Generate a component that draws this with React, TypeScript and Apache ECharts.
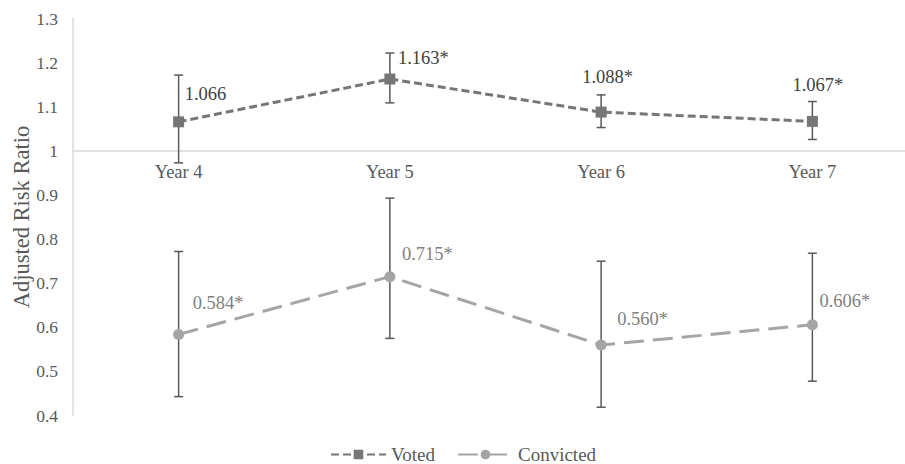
import React, { useEffect, useRef } from "react";
import * as echarts from "echarts";

const categories = ["Year 4", "Year 5", "Year 6", "Year 7"];
const votedValues = [1.066, 1.163, 1.088, 1.067];
const votedLabels = ["1.066", "1.163*", "1.088*", "1.067*"];
const votedLow = [0.973, 1.109, 1.053, 1.026];
const votedHigh = [1.172, 1.222, 1.127, 1.112];
const convictedValues = [0.584, 0.715, 0.56, 0.606];
const convictedLabels = ["0.584*", "0.715*", "0.560*", "0.606*"];
const convictedLow = [0.443, 0.575, 0.419, 0.478];
const convictedHigh = [0.772, 0.893, 0.75, 0.768];
const yMin = 0.4;
const yMax = 1.3;
const yInterval = 0.1;
const crossValue = 1;

// label offsets (layout only): [dx from point to text left edge, dy from point to text middle]
const votedLabelOffsets = [[6, -28], [8, -21], [-19, -35], [-20, -36]];
const convictedLabelOffsets = [[14, -31], [12, -23], [16, -26], [7, -24]];

const FONT = "Liberation Serif";
const GRID_TOP = 18.6;
const GRID_BOTTOM = 48.4;
const CHART_H = 464;

export default function App() {
  const ref = useRef<HTMLDivElement>(null);
  useEffect(() => {
    if (!ref.current) return;
    const chart = echarts.init(ref.current, null, { renderer: "svg" });
    const gridH = CHART_H - GRID_TOP - GRID_BOTTOM;
    const axisOffset = -((crossValue - yMin) / (yMax - yMin)) * gridH;
    const SYM = 11;

    const mkData = (vals: number[], labels: string[], offs: number[][], color: string) =>
      vals.map((v, i) => ({
        value: v,
        label: {
          show: true,
          formatter: labels[i],
          position: [SYM / 2 + offs[i][0], SYM / 2 + offs[i][1]],
          align: "left",
          verticalAlign: "middle",
          color,
          fontFamily: FONT,
          fontSize: 18.5,
        },
      }));

    const errRender = (color: string) => (params: any, api: any) => {
      const x = api.value(0);
      const pLo = api.coord([x, api.value(1)]);
      const pHi = api.coord([x, api.value(2)]);
      const cap = 4.5;
      const style = { stroke: color, lineWidth: 1.5 };
      return {
        type: "group",
        children: [
          { type: "line", shape: { x1: pHi[0], y1: pHi[1], x2: pLo[0], y2: pLo[1] }, style },
          { type: "line", shape: { x1: pHi[0] - cap, y1: pHi[1], x2: pHi[0] + cap, y2: pHi[1] }, style },
          { type: "line", shape: { x1: pLo[0] - cap, y1: pLo[1], x2: pLo[0] + cap, y2: pLo[1] }, style },
        ],
      };
    };

    chart.setOption({
      animation: false,
      backgroundColor: "#ffffff",
      textStyle: { fontFamily: FONT },
      grid: {
        left: 73,
        width: 845,
        top: GRID_TOP,
        height: gridH,
        containLabel: false,
        outerBoundsMode: "none",
      },
      legend: {
        data: ["Voted", "Convicted"],
        top: 440,
        left: 325,
        itemWidth: 55,
        itemHeight: 12,
        itemGap: 22,
        textStyle: { fontFamily: FONT, fontSize: 19, color: "#595959" },
      },
      xAxis: {
        type: "category",
        data: categories,
        boundaryGap: true,
        position: "bottom",
        offset: axisOffset,
        axisLine: { show: true, lineStyle: { color: "#d9d9d9", width: 1.5 } },
        axisTick: { show: false },
        axisLabel: { color: "#595959", fontFamily: FONT, fontSize: 18.5, margin: 12 },
        splitLine: { show: false },
      },
      yAxis: {
        type: "value",
        min: yMin,
        max: yMax,
        interval: yInterval,
        name: "Adjusted Risk Ratio",
        nameLocation: "middle",
        nameGap: 40,
        nameMoveOverlap: false,
        nameTextStyle: { color: "#595959", fontFamily: FONT, fontSize: 22.5 },
        axisLine: { show: true, lineStyle: { color: "#d9d9d9", width: 1.5 } },
        axisTick: { show: false },
        splitLine: { show: false },
        axisLabel: {
          color: "#595959",
          fontFamily: FONT,
          fontSize: 17.5,
          margin: 15,
          formatter: (v: number) => String(Math.round(v * 10) / 10),
        },
      },
      series: [
        {
          name: "VotedErr",
          type: "custom",
          renderItem: errRender("#595959"),
          encode: { x: 0, y: [1, 2] },
          data: categories.map((_, i) => [i, votedLow[i], votedHigh[i]]),
          z: 1,
          silent: true,
        },
        {
          name: "ConvictedErr",
          type: "custom",
          renderItem: errRender("#595959"),
          encode: { x: 0, y: [1, 2] },
          data: categories.map((_, i) => [i, convictedLow[i], convictedHigh[i]]),
          z: 1,
          silent: true,
        },
        {
          name: "Voted",
          type: "line",
          data: mkData(votedValues, votedLabels, votedLabelOffsets, "#404040"),
          symbol: "rect",
          symbolSize: SYM,
          itemStyle: { color: "#767676" },
          lineStyle: { color: "#767676", width: 3, type: [8, 4] },
          z: 3,
        },
        {
          name: "Convicted",
          type: "line",
          data: mkData(convictedValues, convictedLabels, convictedLabelOffsets, "#7f7f7f"),
          symbol: "circle",
          symbolSize: SYM,
          itemStyle: { color: "#a5a5a5" },
          lineStyle: { color: "#a5a5a5", width: 3, type: [20, 9] },
          z: 3,
        },
      ],
    });
    return () => chart.dispose();
  }, []);
  return <div ref={ref} style={{ width: 905, height: 464, position: "absolute", left: 0, top: 0 }} />;
}
